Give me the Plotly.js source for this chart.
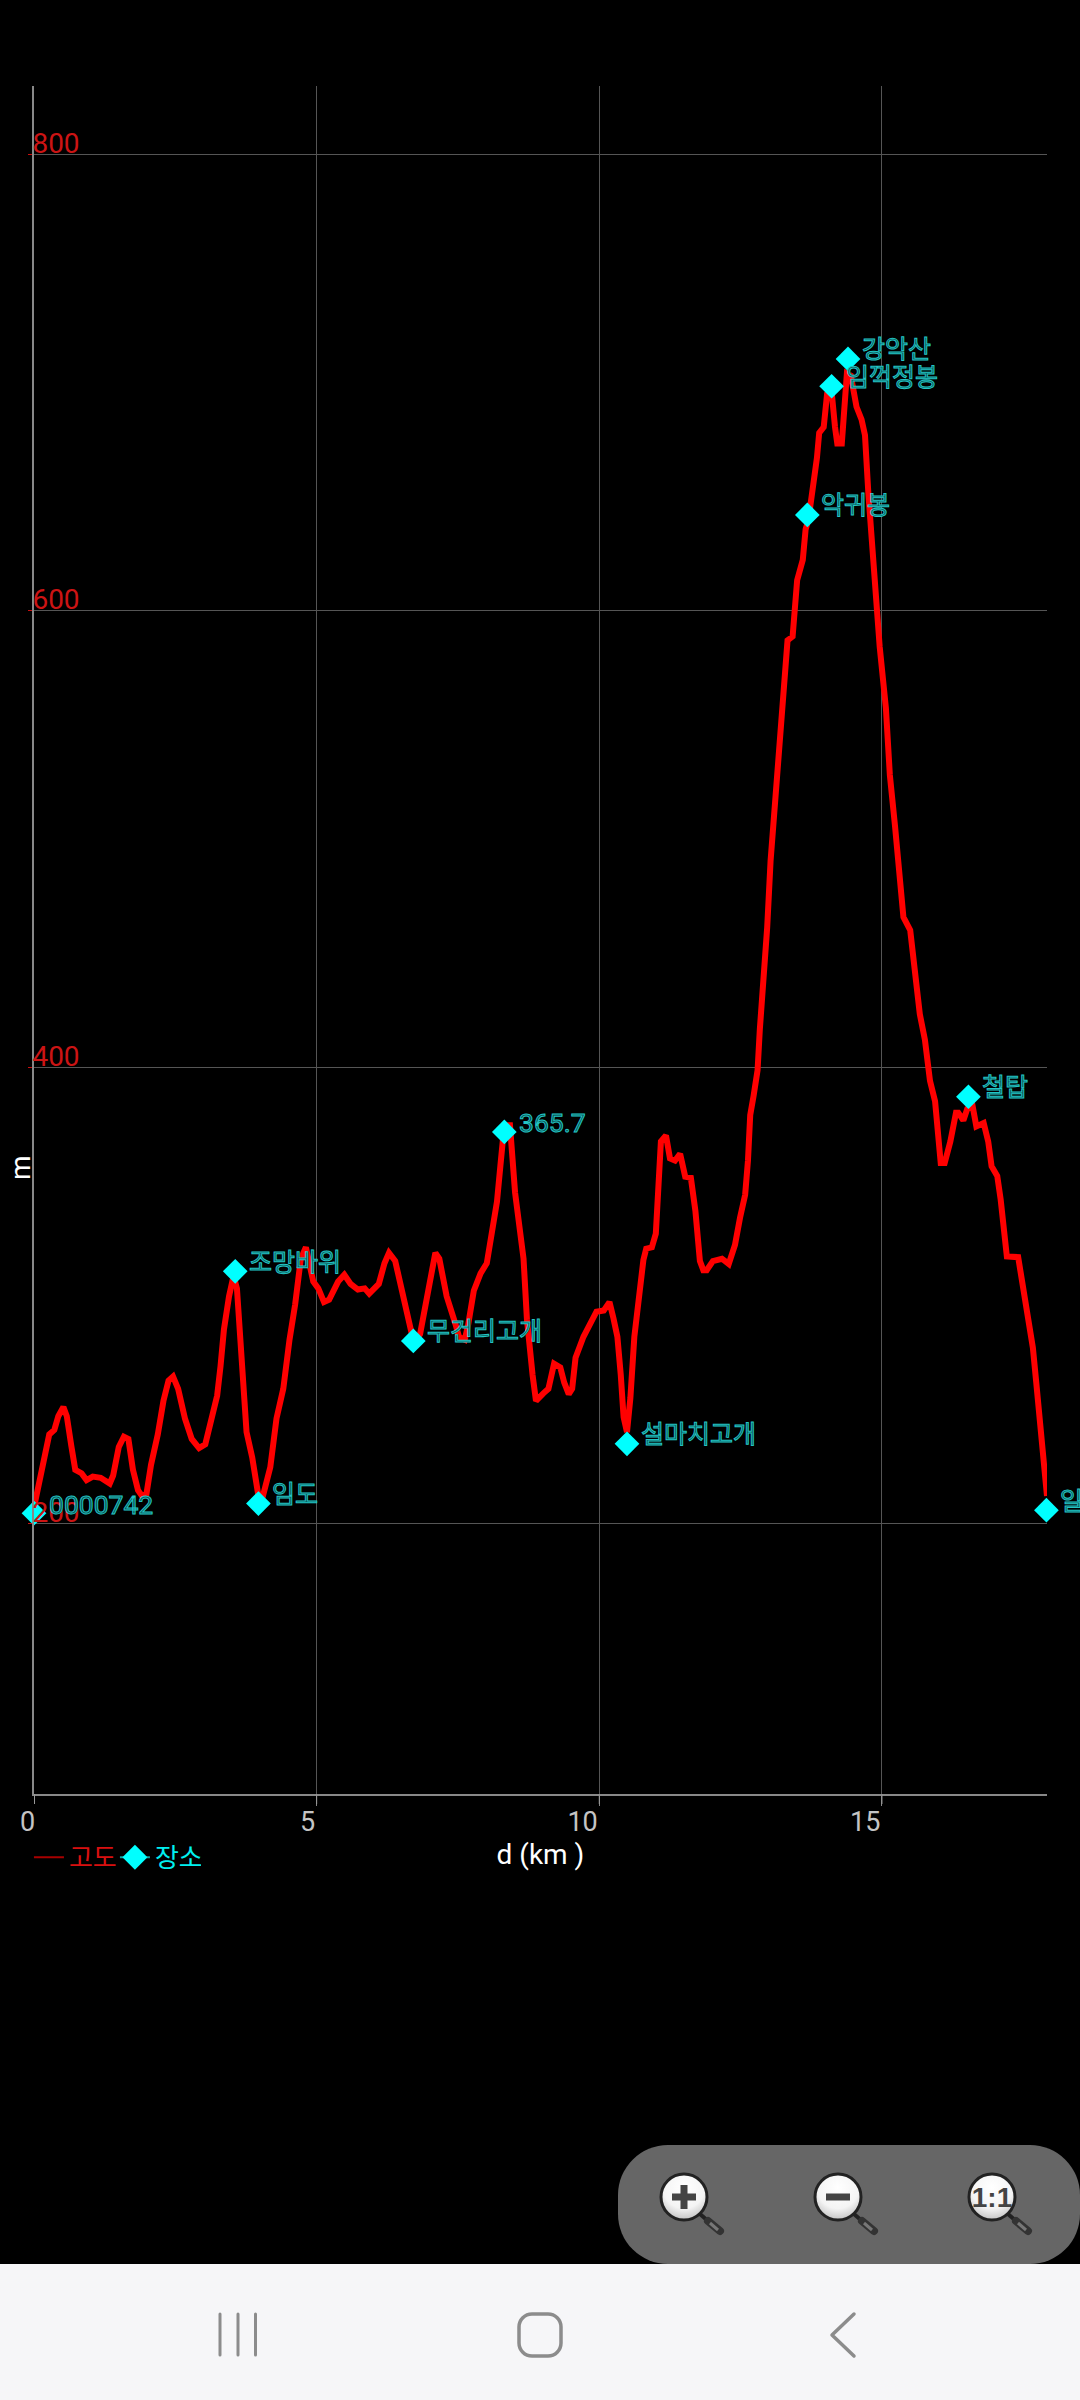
<!DOCTYPE html>
<html><head><meta charset="utf-8">
<script src="https://cdn.plot.ly/plotly-3.0.1.min.js"></script>
<style>
html,body{margin:0;padding:0;background:#000;width:1080px;height:2400px;overflow:hidden}
#chart{position:absolute;left:0;top:0;width:1080px;height:2400px}
.annotation-text{fill:#0a5050 !important;stroke:#22c4c4;stroke-width:1px}
.annotation[data-index="11"] .annotation-text{fill:#fff !important;stroke:none}
.annotation[data-index="12"] .annotation-text{fill:#c4c4c4 !important;stroke:none}
.legend .traces:nth-of-type(1) .legendtext{fill:#d81010 !important}
.legend .traces:nth-of-type(2) .legendtext{fill:#00f0f0 !important}
.legend .legendlines path{stroke-width:2px !important}
.legend .traces:nth-of-type(1) .legendlines path{stroke:#a80000 !important}
.legend .traces:nth-of-type(2) .legendlines path{stroke:#12a0a0 !important}
.legend .scatterpts{transform:translate(20px,0) scale(1.2)}
#nav{position:absolute;left:0;top:2264px;width:1080px;height:136px;background:#f6f6f8}
#pill{position:absolute;left:618px;top:2145px;width:462px;height:119px;background:#666;border-radius:50px}
svg.over{position:absolute;left:0;top:0;pointer-events:none}
</style></head><body>
<div id="chart"></div>
<div id="pill"></div><div id="nav"></div>
<svg class="over" width="1080" height="2400">
<defs>
<radialGradient id="g" cx="50%" cy="30%" r="75%"><stop offset="0" stop-color="#fff"/><stop offset=".6" stop-color="#f4f4f4"/><stop offset="1" stop-color="#bbb"/></radialGradient>
<g id="lens"><line x1="16" y1="17" x2="24" y2="24" stroke="#222" stroke-width="4"/><line x1="24" y1="24" x2="36" y2="34" stroke="#333" stroke-width="8" stroke-linecap="round"/><line x1="26" y1="26" x2="34" y2="33" stroke="#777" stroke-width="3"/><circle r="23" fill="url(#g)" stroke="#222" stroke-width="3"/></g>
</defs>
<use href="#lens" x="684" y="2197"/><use href="#lens" x="838" y="2197"/><use href="#lens" x="992" y="2197"/>
<path d="M672 2197h24M684 2185v24" stroke="#444" stroke-width="7" fill="none"/>
<path d="M826 2197h24" stroke="#444" stroke-width="7" fill="none"/>
<text x="992" y="2207" text-anchor="middle" font-family="Liberation Sans Narrow, Liberation Sans" font-weight="bold" font-size="28" fill="#444">1:1</text>
<g stroke="#8c8c8c" stroke-width="3" stroke-linecap="round" fill="none">
<path d="M220 2314v41M238 2314v41M255.500 2314v41"/>
<rect x="519" y="2314" width="42" height="42" rx="13" stroke-width="3.500"/>
<path d="M854 2314L832 2335L854 2356" stroke-width="3.500" stroke-linejoin="round"/>
</g></svg>
<script>
const distanceKm = [0,0.11,0.21,0.27,0.36,0.43,0.52,0.58,0.66,0.73,0.84,0.93,1.04,1.18,1.34,1.40,1.50,1.59,1.67,1.75,1.84,1.91,1.99,2.07,2.19,2.29,2.38,2.46,2.55,2.67,2.79,2.92,3.03,3.11,3.24,3.30,3.36,3.45,3.53,3.59,3.66,3.76,3.86,3.97,4.05,4.18,4.29,4.41,4.52,4.62,4.72,4.81,4.87,4.94,5.03,5.13,5.22,5.38,5.49,5.60,5.73,5.85,5.93,6.10,6.20,6.28,6.39,6.55,6.67,6.72,6.83,6.99,7.10,7.17,7.30,7.46,7.52,7.62,7.68,7.78,7.90,8.01,8.19,8.25,8.32,8.42,8.51,8.66,8.72,8.82,8.88,9.01,9.10,9.20,9.31,9.38,9.46,9.52,9.58,9.72,9.84,9.95,10.08,10.18,10.25,10.32,10.38,10.43,10.49,10.55,10.62,10.69,10.78,10.83,10.93,11.00,11.05,11.09,11.18,11.25,11.34,11.43,11.52,11.62,11.70,11.78,11.84,11.90,12.01,12.17,12.29,12.40,12.49,12.58,12.63,12.67,12.73,12.80,12.84,12.91,12.97,13.03,13.08,13.17,13.23,13.29,13.33,13.42,13.46,13.50,13.60,13.65,13.70,13.77,13.85,13.89,13.97,14.03,14.11,14.17,14.21,14.29,14.35,14.38,14.45,14.55,14.64,14.70,14.76,14.82,14.88,14.96,15.07,15.14,15.23,15.31,15.38,15.50,15.58,15.67,15.76,15.85,15.94,15.99,16.04,16.11,16.21,16.31,16.35,16.44,16.51,16.60,16.67,16.80,16.88,16.94,17.04,17.10,17.17,17.21,17.41,17.53,17.67,17.73,17.79,17.85,17.92];
const elevationM = [207,219,231,239,241,247,251,247,234,223.5,222,219,220.5,220,217.5,221,233.5,238,237,223.5,214.5,212,213,225.7,239,253.7,262.6,264.4,259,246,237,233,234.7,242.5,256,269,285,299.5,308.5,303,274,240,229,212,212,224.6,246,259,280.5,296,316,321,314,306,303,297,298,306,309,305,302.5,303,300.7,305,314,318.6,315,298,283,279,283,305,318.6,316,299.5,287,281.7,280.5,287,302,309.6,314,341,356.6,374.5,374.5,345,316,289.5,265,253.7,257,259,270,268.4,261.7,256.7,259,272.6,281.8,286.9,292.8,293.3,297,290,281.8,265,246.6,240,255,281.8,297,315.4,320.4,321,327,345.6,367.4,370,360,359,362,352,351.5,337,315,311,311,315,316,313.7,322,334,344,359,379,387.4,398.6,416.5,436.6,461.2,490.3,508,535,557.4,580,587,588.7,602,613.4,622.3,635.7,640,651.4,667,678,680.5,695,696,680.5,673.3,673.3,691.7,704,703,689.4,683.8,677,651.4,631.3,606.6,584.3,557.4,528,506,486,465.7,460,441,423.2,412,394,385,372.5,358,358,367.4,380,380,376.6,381.7,383.4,374,375.5,367.4,356.5,352.3,342,325.5,317,316.7,297,277,261.7,245,226.5,212];
const placeKm = [0,3.56,3.97,6.71,8.32,10.49,13.68,14.11,14.40,16.53,17.91];
const placeM = [204.5,310.5,208.7,280,371.6,234.9,642,698.4,710.4,387,205.8];
const placeLabels = ["0000742","조망바위","임도","무건리고개","365.7","설마치고개","악귀봉","임꺽정봉","강악산","철탑","일"];
const xTicks = [0,5,10,15];
const yTicks = [200,400,600,800];
const fontStack = 'Roboto, "Noto Sans CJK KR", sans-serif';

const data = [
  {type:'scatter',mode:'lines',name:'고도',x:distanceKm,y:elevationM,line:{color:'#ff0000',width:6},hoverinfo:'skip'},
  {type:'scatter',mode:'lines+markers',name:'장소',x:placeKm,y:placeM,line:{color:'#12a0a0',width:0},
   marker:{symbol:'diamond',size:19,color:'#00ffff'},cliponaxis:false,hoverinfo:'skip'}
];
const annotations = placeLabels.map((t,i)=>{
  const numeric = /^[0-9.]+$/.test(t);
  return {x:placeKm[i],y:placeM[i],xref:'x',yref:'y',text:t,showarrow:false,
    xanchor:'left',yanchor:'middle',xshift:numeric?13:12,yshift:9,font:{family:fontStack,size:numeric?26.5:25,color:'#22c4c4'}};
});
annotations.push({x:-14/1013,y:0.3665,xref:'paper',yref:'paper',text:'m',textangle:-90,showarrow:false,
  xanchor:'center',yanchor:'middle',font:{family:fontStack,size:28,color:'#fff'}});
annotations.push({x:xTicks[0],y:-28/1708,xref:'x',yref:'paper',text:String(xTicks[0]),showarrow:false,
  xanchor:'right',yanchor:'middle',xshift:3,font:{family:fontStack,size:27,color:'#c4c4c4'}});
const tickShapes = xTicks.map(v=>({type:'line',xref:'x',yref:'paper',x0:v,x1:v,y0:0,y1:-10/1708,line:{color:'#999',width:v===0?2:1}}));
const layout = {
  width:1080,height:2400,paper_bgcolor:'#000',plot_bgcolor:'#000',
  margin:{l:34,r:33,t:86,b:606,pad:0},font:{family:fontStack},
  xaxis:{range:[0,17.92],tickvals:xTicks,ticktext:xTicks.map(String),ticks:'outside',ticklen:10,tickcolor:'#888',tickwidth:1,
    ticklabelposition:'outside left',ticklabeloverflow:'allow',ticklabelstandoff:3,
    showline:true,linecolor:'#888',linewidth:2,gridcolor:'#555',gridwidth:1,zeroline:false,
    tickfont:{size:27,color:'#c4c4c4',family:fontStack},
    title:{text:'d (km )',font:{size:28,color:'#fff',family:fontStack},standoff:0}},
  yaxis:{range:[81.4,830],tickvals:yTicks,ticktext:yTicks.map(String),ticks:'outside',ticklen:4,tickcolor:'#c81010',tickwidth:1,
    ticklabelposition:'inside top',ticklabelshift:9,
    showline:true,linecolor:'#888',linewidth:2,gridcolor:'#555',gridwidth:1,zeroline:false,
    tickfont:{size:28,color:'#cc1414',family:fontStack}},
  showlegend:true,
  legend:{orientation:'h',x:-0.005,xanchor:'left',y:-0.0233,yanchor:'top',font:{size:26,family:fontStack},itemwidth:30,entrywidth:41,bgcolor:'rgba(0,0,0,0)',traceorder:'normal'},
  shapes:tickShapes,
  annotations
};
Plotly.newPlot('chart',data,layout,{staticPlot:true,displayModeBar:false});
</script>
</body></html>
